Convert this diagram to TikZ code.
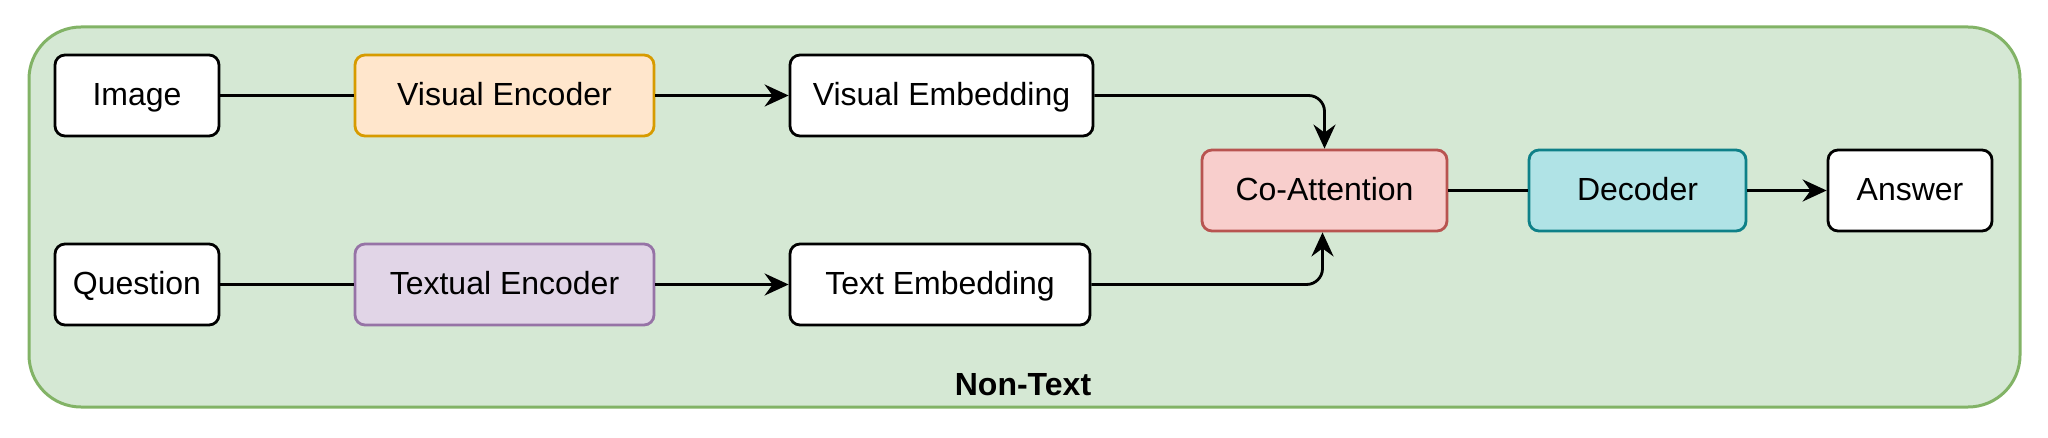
\documentclass[tikz,border=0pt]{standalone}
\usepackage{fontspec}
\setmainfont{Liberation Sans}
\usetikzlibrary{arrows.meta}
\definecolor{grfill}{HTML}{D5E8D4}\definecolor{grline}{HTML}{82B366}
\definecolor{orfill}{HTML}{FFE6CC}\definecolor{orline}{HTML}{D79B00}
\definecolor{pufill}{HTML}{E1D5E7}\definecolor{puline}{HTML}{9673A6}
\definecolor{refill}{HTML}{F8CECC}\definecolor{reline}{HTML}{B85450}
\definecolor{tefill}{HTML}{B0E3E6}\definecolor{teline}{HTML}{0E8088}
\tikzset{
  blk/.style={draw=black, fill=white, rounded corners=5pt, line width=1.4pt,
    minimum height=40.5pt, inner sep=0pt, text height=11.5pt, text depth=1.5pt,
    font=\fontsize{16}{19}\selectfont},
  lnk/.style={line width=1.4pt, draw=black},
  arr/.style={lnk, -{Stealth[length=12pt,width=11pt,inset=4pt]}},
}
\begin{document}
\begin{tikzpicture}[x=0.5pt,y=-0.5pt]
\useasboundingbox (0,0) rectangle (2048,438);
\draw[fill=grfill, draw=grline, line width=1.5pt, rounded corners=26pt] (29,27) rectangle (2020,407);
\node[font=\fontsize{16}{19}\selectfont\bfseries] (lbl) at (1023,385) {Non-Text};
\node[blk, minimum width=82pt] (img) at (137,95.5) {Image};
\node[blk, minimum width=149.5pt, fill=orfill, draw=orline] (venc) at (504.5,95.5) {Visual Encoder};
\node[blk, minimum width=151.5pt] (vemb) at (941.5,95.5) {Visual Embedding};
\node[blk, minimum width=82pt] (q) at (137,284.5) {Question};
\node[blk, minimum width=149.5pt, fill=pufill, draw=puline] (tenc) at (504.5,284.5) {Textual Encoder};
\node[blk, minimum width=150pt] (temb) at (940,284.5) {Text Embedding};
\node[blk, minimum width=122.5pt, fill=refill, draw=reline] (ca) at (1324.5,190.5) {Co-Attention};
\node[blk, minimum width=108.5pt, fill=tefill, draw=teline] (dec) at (1637.5,190.5) {Decoder};
\node[blk, minimum width=82pt] (ans) at (1910,190.5) {Answer};
\draw[lnk] (img) -- (venc);
\draw[arr] (venc) -- (vemb);
\draw[lnk] (q) -- (tenc);
\draw[arr] (tenc) -- (temb);
\draw[arr, rounded corners=8pt] (vemb.east) -| (ca.north);
\draw[arr, rounded corners=8pt] (temb.east) -| ([xshift=-1pt]ca.south);
\draw[lnk] (ca) -- (dec);
\draw[arr] (dec) -- (ans);
\end{tikzpicture}
\end{document}
